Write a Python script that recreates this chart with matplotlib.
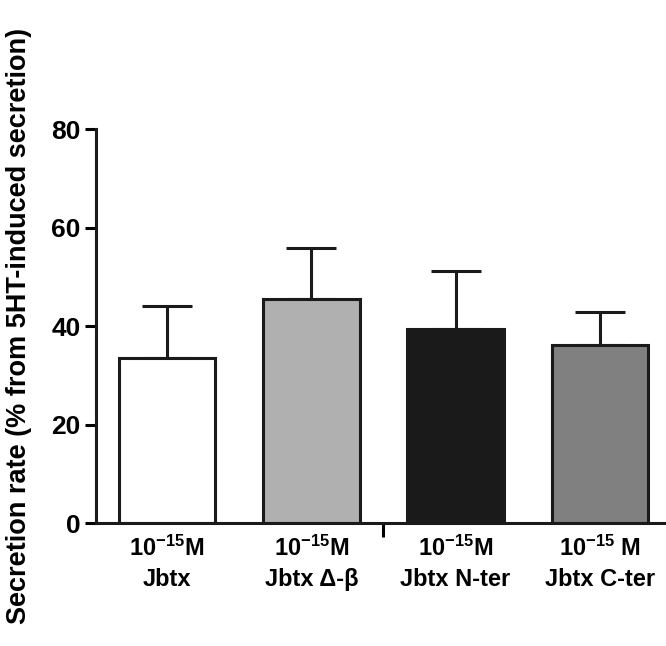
import matplotlib.pyplot as plt

plt.rcParams['font.family'] = ['Liberation Sans', 'DejaVu Sans']
plt.rcParams['font.weight'] = 'bold'
plt.rcParams['mathtext.fontset'] = 'custom'
plt.rcParams['mathtext.rm'] = 'Liberation Sans:bold'
plt.rcParams['mathtext.bf'] = 'Liberation Sans:bold'
plt.rcParams['mathtext.default'] = 'bf'

# data
groups = ["Jbtx", "Jbtx \u0394-\u03b2", "Jbtx N-ter", "Jbtx C-ter"]
conc = ["10$^{-15}$M", "10$^{-15}$M", "10$^{-15}$M", "10$^{-15}$ M"]
means = [33.5, 45.5, 39.4, 36.1]
errors = [10.6, 10.3, 11.8, 6.7]
colors = ["#ffffff", "#b0b0b0", "#1a1a1a", "#808080"]


def draw():
    fig = plt.figure(figsize=(6.66, 6.46), dpi=100)
    ax = fig.add_axes([0.144, 0.19, 0.856, 0.61])
    x = list(range(len(groups)))
    ax.bar(x, means, width=0.67, color=colors, edgecolor="#1a1a1a", linewidth=2.2, zorder=2)
    ax.errorbar(x, means, yerr=[[0] * len(errors), errors], fmt="none", ecolor="#1a1a1a",
                elinewidth=2.2, capsize=18, capthick=2.2, zorder=1)

    ax.set_xlim(-0.493, 3.458)
    ax.set_ylim(0, 80)
    ax.set_yticks([0, 20, 40, 60, 80])
    ax.set_xticks(x)
    ax.set_xticklabels([c + "\n" + g for c, g in zip(conc, groups)], fontsize=17,
                       fontweight="bold", linespacing=1.4)
    ax.set_xticks([1.5], minor=True)
    ax.tick_params(axis="x", which="major", length=0, pad=9)
    ax.tick_params(axis="x", which="minor", length=10, width=2.2, direction="out")
    ax.tick_params(axis="y", length=8, width=2.2, labelsize=19, pad=3)
    for lab in ax.get_yticklabels():
        lab.set_fontweight("bold")

    for s in ["top", "right"]:
        ax.spines[s].set_visible(False)
    for s in ["left", "bottom"]:
        ax.spines[s].set_linewidth(2.2)
        ax.spines[s].set_color("#1a1a1a")

    ax.set_ylabel("Secretion rate (% from 5HT-induced secretion)", fontsize=19.5,
                  fontweight="bold")
    ax.yaxis.set_label_coords(-0.112, 0.5)
    fig.savefig("out.png", dpi=100)


if __name__ == '__main__':
    draw()
